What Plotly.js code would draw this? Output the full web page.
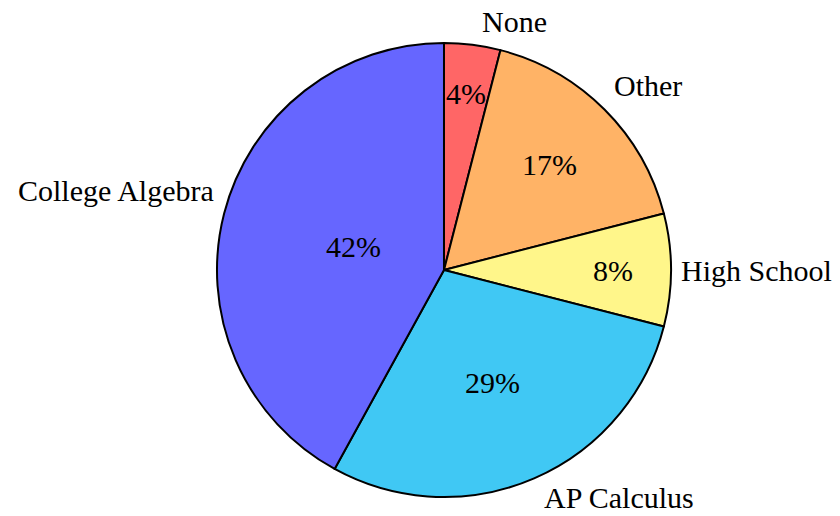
<!DOCTYPE html>
<html>
<head>
<meta charset="utf-8">
<script src="https://cdn.plot.ly/plotly-3.0.1.min.js"></script>
<style>html,body{margin:0;padding:0;background:#fff;}#chart{width:840px;height:516px;}</style>
</head>
<body>
<div id="chart"></div>
<script>
const categories = ["None", "Other", "High School", "AP Calculus", "College Algebra"];
const shares = [4, 17, 8, 29, 42];
const sliceColors = ["#ff6666", "#ffb366", "#fff68a", "#40c8f4", "#6666ff"];

const fontFamily = "Liberation Serif, serif";
const fontSize = 30;

const W = 840, H = 516;
const margin = {l: 0, r: 0, t: 43, b: 19};
const domain = {x: [0.2583, 0.7988], y: [0, 1]};

// geometry of the pie derived from the layout
const plotW = W - margin.l - margin.r, plotH = H - margin.t - margin.b;
const cx = margin.l + plotW * (domain.x[0] + domain.x[1]) / 2;
const cy = margin.t + plotH * (1 - (domain.y[0] + domain.y[1]) / 2);
const R = Math.min(plotW * (domain.x[1] - domain.x[0]), plotH * (domain.y[1] - domain.y[0])) / 2;
const toPaperX = px => (px - margin.l) / plotW;
const toPaperY = py => (H - margin.b - py) / plotH;

const total = shares.reduce((a, b) => a + b, 0);
const annotations = [];
let cum = 0;
shares.forEach((v, i) => {
  const frac = v / total;
  const spanDeg = frac * 360;
  const mid = (cum + frac / 2) * 2 * Math.PI; // clockwise from top
  cum += frac;
  const sx = Math.sin(mid), sy = -Math.cos(mid); // screen direction
  // percentage text: closer to the rim for thin slices
  const d = (0.825 + Math.max(Math.min(-0.3 * spanDeg / 110, 0), -0.5)) * R;
  annotations.push({
    xref: "paper", yref: "paper",
    x: toPaperX(cx + d * sx), y: toPaperY(cy + d * sy),
    xanchor: "center", yanchor: "middle",
    text: Math.round(frac * 100) + "%",
    showarrow: false,
    font: {family: fontFamily, size: fontSize, color: "#000"}
  });
  // category label just outside the rim
  const ex = cx + R * sx, ey = cy + R * sy;
  const xa = sx > 0.1 ? "left" : (sx < -0.1 ? "right" : "center");
  const ya = sy < -0.15 ? "bottom" : (sy > 0.15 ? "top" : "middle");
  annotations.push({
    xref: "paper", yref: "paper",
    x: toPaperX(ex), y: toPaperY(ey),
    xanchor: xa, yanchor: ya,
    xshift: xa === "left" ? 9 : (xa === "right" ? -9 : 0),
    yshift: ya === "bottom" ? 6 : (ya === "top" ? -2 : 0),
    borderpad: 0,
    text: categories[i],
    showarrow: false,
    font: {family: fontFamily, size: fontSize, color: "#000"}
  });
});

const pie = {
  type: "pie",
  labels: categories,
  values: shares,
  sort: false,
  direction: "clockwise",
  rotation: 0,
  domain: domain,
  marker: {colors: sliceColors, line: {color: "#000", width: 2}},
  textinfo: "none",
  hoverinfo: "skip",
  showlegend: false
};

Plotly.newPlot("chart", [pie], {
  width: W,
  height: H,
  margin: margin,
  paper_bgcolor: "#fff",
  plot_bgcolor: "#fff",
  font: {family: fontFamily},
  showlegend: false,
  annotations: annotations
}, {staticPlot: true});
</script>
</body>
</html>
